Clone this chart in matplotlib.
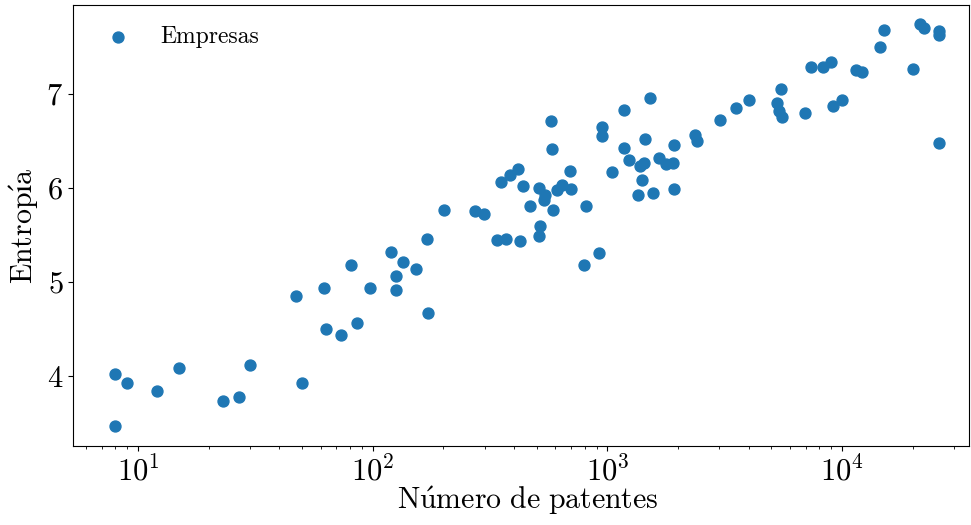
import matplotlib
matplotlib.use('Agg')
import matplotlib.pyplot as plt
import numpy as np

plt.rcParams['font.family'] = 'serif'
plt.rcParams['font.serif'] = ['cmr10']
plt.rcParams['mathtext.fontset'] = 'cm'
plt.rcParams['axes.formatter.use_mathtext'] = True
plt.rcParams['axes.unicode_minus'] = False

# numero de patentes por empresa (eje log) y su entropia
patentes = np.array([
    8, 8, 9, 12, 15, 23, 27, 30, 47, 50,
    62, 63, 73, 81, 86, 97, 119, 125, 126, 135,
    153, 171, 172, 202, 273, 299, 338, 370, 426, 353,
    383, 415, 436, 467, 511, 542, 538, 588, 516, 510,
    573, 583, 610, 643, 698, 691, 810, 795, 925, 951,
    951, 1177, 1173, 1236, 1043, 1451, 1381, 1428, 1404, 1353,
    1569, 1519, 1656, 1777, 1904, 1928, 1928, 2362, 2402, 3028,
    3532, 4012, 5263, 5383, 5562, 5492, 6970, 7393, 8289, 8943,
    9147, 9991, 11405, 12190, 14505, 15130, 19990, 21410, 22340, 25800,
    25950, 25880,
])
entropia = np.array([
    4.02, 3.47, 3.92, 3.84, 4.08, 3.73, 3.78, 4.12, 4.85, 3.93,
    4.94, 4.50, 4.44, 5.18, 4.56, 4.94, 5.32, 5.06, 4.91, 5.21,
    5.14, 5.46, 4.67, 5.77, 5.76, 5.72, 5.45, 5.46, 5.44, 6.06,
    6.14, 6.20, 6.02, 5.81, 6.00, 5.93, 5.87, 5.77, 5.60, 5.49,
    6.71, 6.42, 5.98, 6.03, 5.99, 6.18, 5.81, 5.18, 5.31, 6.65,
    6.55, 6.83, 6.43, 6.30, 6.17, 6.52, 6.23, 6.27, 6.09, 5.93,
    5.95, 6.96, 6.32, 6.25, 6.27, 6.46, 5.99, 6.56, 6.50, 6.72,
    6.85, 6.94, 6.90, 6.82, 6.76, 7.05, 6.80, 7.29, 7.29, 7.34,
    6.87, 6.94, 7.26, 7.23, 7.50, 7.68, 7.27, 7.75, 7.70, 7.67,
    7.63, 6.48,
])

fig = plt.figure(figsize=(9.71, 5.25), dpi=100)
ax = fig.add_axes([0.0752, 0.1505, 0.9228, 0.84])

ax.scatter(patentes, entropia, s=62, color='#1f77b4', label='Empresas')
ax.set_xscale('log')
ax.set_xlim(5.28, 34750)
ax.set_ylim(3.255, 7.947)
ax.set_yticks([4, 5, 6, 7])

ax.set_xlabel(r'$\mathrm{N\acute{u}mero\ de\ patentes}$', fontsize=21.5)
ax.set_ylabel(r'$\mathrm{Entrop\acute{ı}a}$', fontsize=21.5, labelpad=4)
ax.xaxis.set_label_coords(0.507, -0.087)
ax.xaxis.label.set_verticalalignment('top')
ax.tick_params(axis='both', which='major', labelsize=22)

ax.legend(loc='upper left', frameon=False, fontsize=17)

fig.savefig('out.png', dpi=100)
